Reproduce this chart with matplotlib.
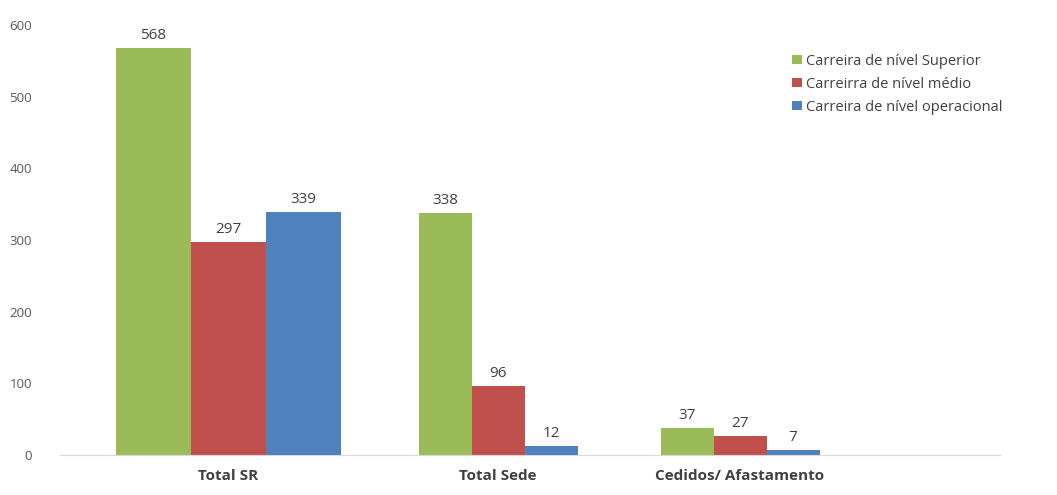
import matplotlib.pyplot as plt
import numpy as np

plt.rcParams['font.family'] = ['Open Sans', 'DejaVu Sans']

categorias = ['Total SR', 'Total Sede', 'Cedidos/ Afastamento']
series = ['Carreira de nível Superior', 'Carreirra de nível médio', 'Carreira de nível operacional']
superior = [568, 338, 37]
medio = [297, 96, 27]
operacional = [339, 12, 7]

cores = ['#9BBB59', '#C0504D', '#4F81BD']

# centros e larguras dos grupos (em pixels do eixo)
centros = np.array([228, 498, 740])
larguras = np.array([75, 53, 53])

fig = plt.figure(figsize=(10.57, 4.95), dpi=100)
ax = fig.add_axes([60 / 1057, 1 - 455 / 495, 940 / 1057, 430 / 495])

for i, (valores, cor, nome) in enumerate(zip([superior, medio, operacional], cores, series)):
    xs = centros + (i - 1) * larguras
    ax.bar(xs, valores, width=larguras, color=cor, label=nome)
    for x, v in zip(xs, valores):
        ax.text(x, v + 7, str(v), ha='center', va='bottom', fontsize=11, color='#404040')

ax.set_xlim(60, 1000)
ax.set_ylim(0, 600)
ax.set_yticks(range(0, 601, 100))
ax.tick_params(axis='y', length=0, labelsize=9.5, labelcolor='#595959', pad=20)
ax.set_xticks(centros)
ax.set_xticklabels(categorias, fontsize=11, fontweight='bold', color='#404040')
ax.tick_params(axis='x', length=0, pad=10)

for lado in ['top', 'right', 'left']:
    ax.spines[lado].set_visible(False)
ax.spines['bottom'].set_color('#D9D9D9')

ax.legend(loc='upper left', bbox_to_anchor=(0.765, 0.964), frameon=False, fontsize=10.5,
          handlelength=0.65, handleheight=0.65, handletextpad=0.3, labelspacing=0.55,
          labelcolor='#404040')

fig.savefig('out.png', dpi=100)
